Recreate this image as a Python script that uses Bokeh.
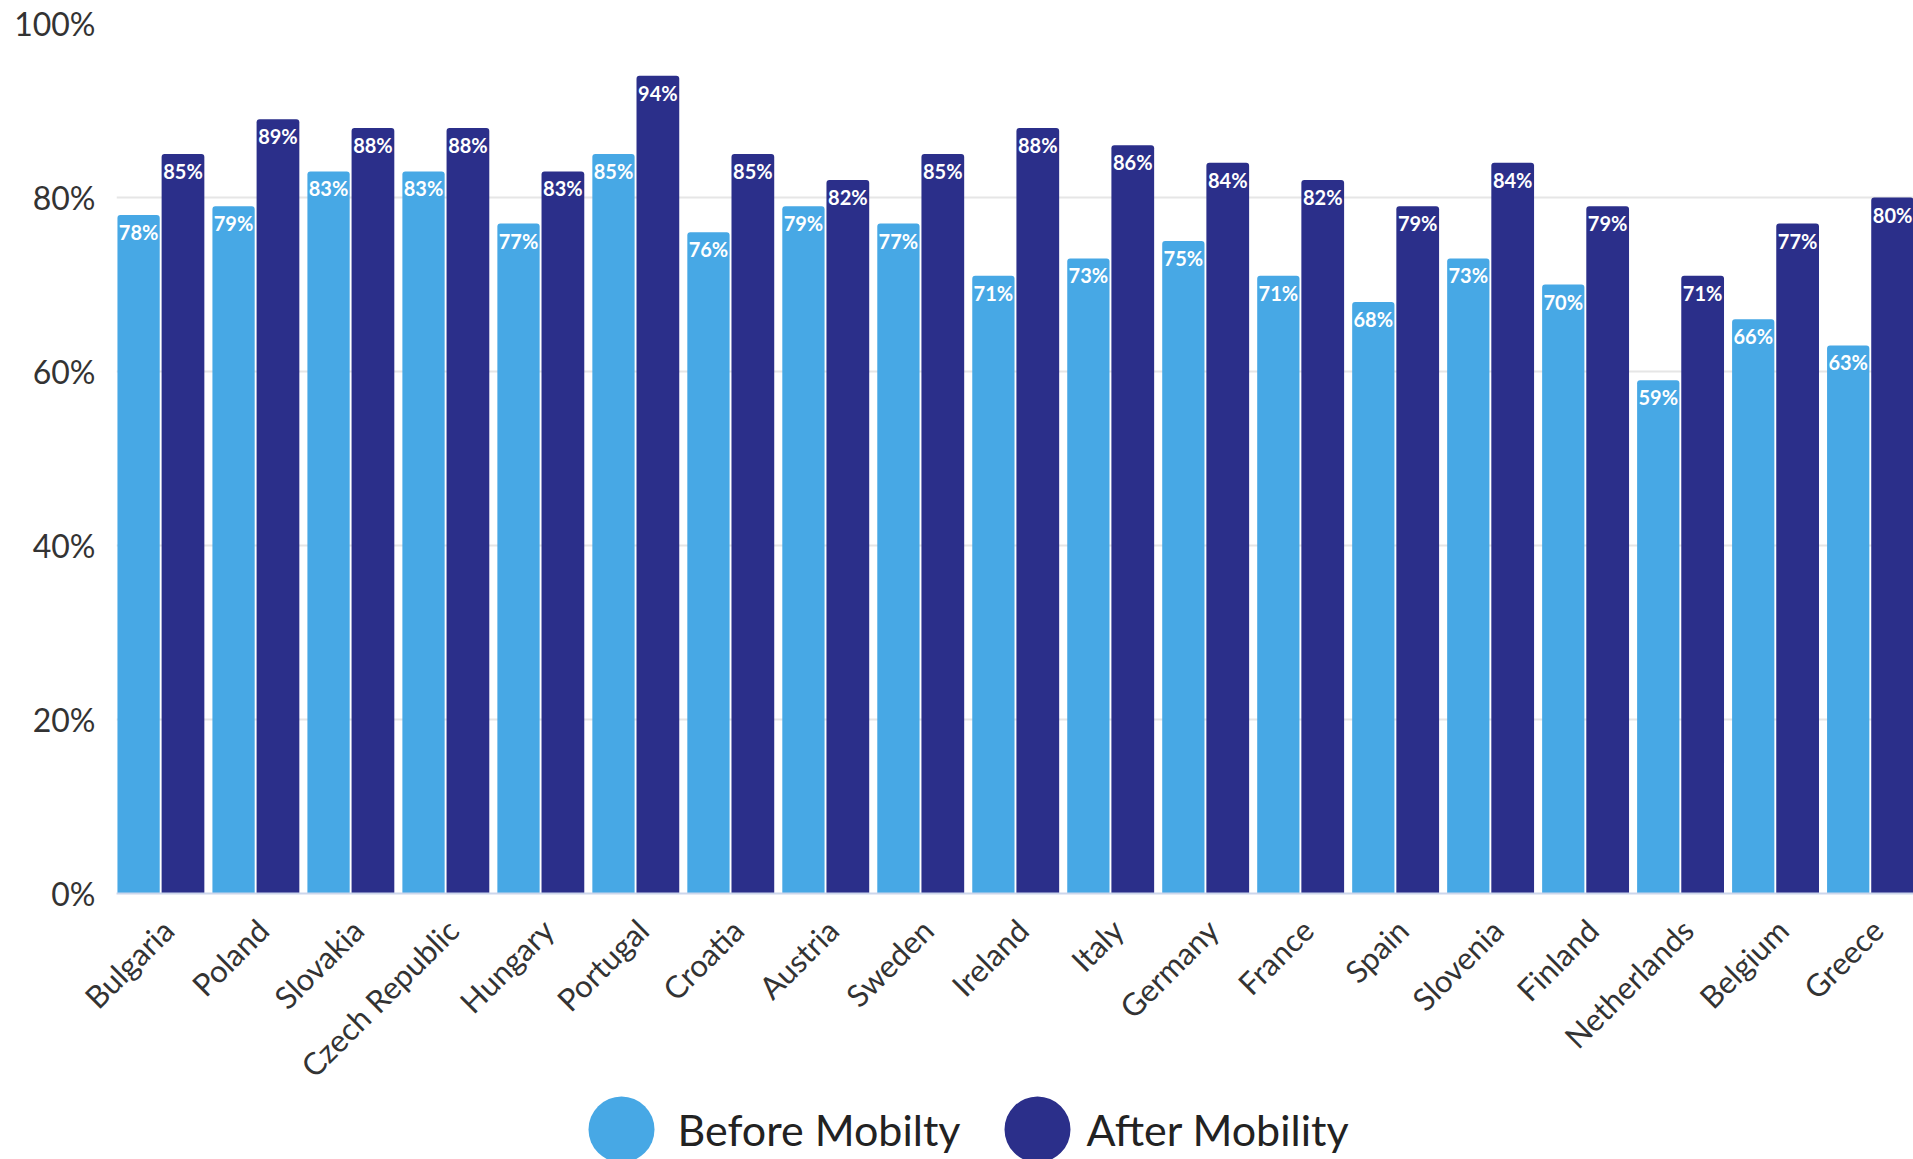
import math
from bokeh.plotting import figure
from bokeh.layouts import column
from bokeh.models import (Range1d, FixedTicker, PrintfTickFormatter, ColumnDataSource)
from bokeh.transform import dodge
from bokeh.core.properties import value
from bokeh.embed import file_html
from bokeh.resources import INLINE

countries = ["Bulgaria", "Poland", "Slovakia", "Czech Republic", "Hungary", "Portugal",
             "Croatia", "Austria", "Sweden", "Ireland", "Italy", "Germany", "France",
             "Spain", "Slovenia", "Finland", "Netherlands", "Belgium", "Greece"]
before = [78, 79, 83, 83, 77, 85, 76, 79, 77, 71, 73, 75, 71, 68, 73, 70, 59, 66, 63]
after = [85, 89, 88, 88, 83, 94, 85, 82, 85, 88, 86, 84, 82, 79, 84, 79, 71, 77, 80]
y_ticks = [0, 20, 40, 60, 80, 100]
series_names = ["Before Mobilty", "After Mobility"]
colors = ["#47a8e5", "#2b2f8a"]

FONT = "Lato"
idx = list(range(len(countries)))
src = ColumnDataSource(dict(
    idx=idx, country=countries, before=before, after=after,
    before_lbl=[f"{v}%" for v in before], after_lbl=[f"{v}%" for v in after]))

W = 1913
H_MAIN = 1102
OVERLAP = 9
H_LEG = 1159 - H_MAIN + OVERLAP
LEFT = 116

p = figure(width=W, height=H_MAIN, x_range=Range1d(0, 18.92), y_range=Range1d(0, 100),
           output_backend="svg", toolbar_location=None, title=None,
           min_border_left=LEFT, min_border_right=0, min_border_top=23,
           min_border_bottom=H_MAIN - 893)
p.outline_line_color = None

off_b, w_b = 0.2325, 0.445
off_a, w_a = 0.70, 0.45
p.vbar(x=dodge("idx", off_b), top="before", width=w_b, bottom=0, source=src,
       fill_color=colors[0], line_color=None, border_radius=(3, 3, 0, 0))
p.vbar(x=dodge("idx", off_a), top="after", width=w_a, bottom=0, source=src,
       fill_color=colors[1], line_color=None, border_radius=(3, 3, 0, 0))

for off, col, lbl in [(off_b, "before", "before_lbl"), (off_a, "after", "after_lbl")]:
    p.text(x=dodge("idx", off), y=col, text=lbl, source=src, text_align="center",
           text_baseline="top", y_offset=5, text_color="white",
           text_font=value(FONT), text_font_style="bold", text_font_size="20px")

# axes
ticks_x = [round(i + 0.54, 2) for i in idx]
p.xaxis.ticker = FixedTicker(ticks=ticks_x)
p.xaxis.major_label_overrides = {t: c for t, c in zip(ticks_x, countries)}
p.xaxis.major_label_orientation = math.pi / 4
p.xaxis.major_label_text_font = FONT
p.xaxis.major_label_text_font_size = "31px"
p.xaxis.major_label_text_color = "#333333"
p.xaxis.axis_line_color = "#ccd6eb"
p.xaxis.axis_line_width = 2
p.xaxis.major_tick_line_color = None
p.xaxis.minor_tick_line_color = None
p.xaxis.major_tick_in = 0
p.xaxis.major_tick_out = 0
p.xaxis.major_label_standoff = 31

p.yaxis.ticker = FixedTicker(ticks=y_ticks)
p.yaxis.formatter = PrintfTickFormatter(format="%d%%")
p.yaxis.major_label_text_font = FONT
p.yaxis.major_label_text_font_size = "32px"
p.yaxis.major_label_text_color = "#333333"
p.yaxis.axis_line_color = None
p.yaxis.major_tick_line_color = None
p.yaxis.minor_tick_line_color = None
p.yaxis.major_tick_in = 0
p.yaxis.major_tick_out = 0
p.yaxis.major_label_standoff = 21

p.xgrid.grid_line_color = None
p.ygrid.grid_line_color = "#e6e6e6"
p.ygrid.grid_line_width = 2

# legend strip (drawn in its own figure below the chart; x in page pixels)
leg = figure(width=W, height=H_LEG, x_range=Range1d(LEFT, W), y_range=Range1d(0, H_LEG),
             output_backend="svg", toolbar_location=None, title=None,
             x_axis_type=None, y_axis_type=None, margin=(-OVERLAP, 0, 0, 0),
             min_border_left=LEFT, min_border_right=0, min_border_top=0, min_border_bottom=0)
leg.outline_line_color = None
leg.background_fill_color = None
leg.border_fill_color = None
leg.xgrid.grid_line_color = None
leg.ygrid.grid_line_color = None
leg_cy = 30
leg_marker_x = [621, 1037]
leg_text_x = [677, 1086]
leg.scatter(x=leg_marker_x, y=[leg_cy, leg_cy], size=66, fill_color=colors, line_color=None)
leg.text(x=leg_text_x, y=[leg_cy, leg_cy], text=series_names, text_align="left",
         text_baseline="middle", text_color="#222222", text_font=value(FONT),
         text_font_size="43px")

layout = column(p, leg, spacing=0)
open("out.html", "w").write(file_html(layout, INLINE))
